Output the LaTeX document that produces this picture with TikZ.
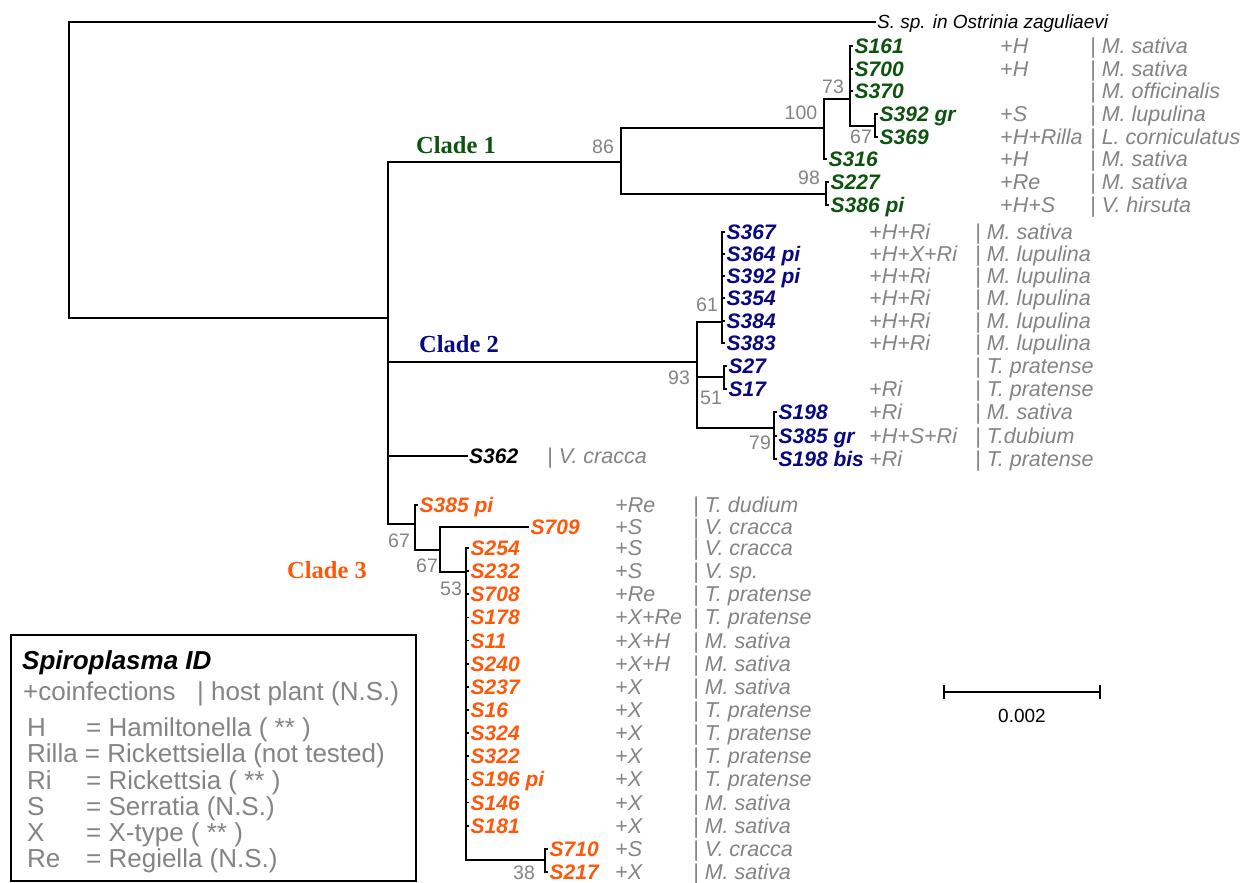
\documentclass[tikz,border=0pt]{standalone}
\usepackage{fontspec}
\setmainfont{Liberation Sans}
\newfontfamily\cladefont{Liberation Serif}
\definecolor{cgreen}{RGB}{12,84,14}
\definecolor{cnavy}{RGB}{8,8,128}
\definecolor{corange}{RGB}{255,88,10}
\definecolor{tgrey}{RGB}{132,132,132}

\tikzset{
  branch/.style={line width=1.7pt, line cap=rect, line join=miter},
  taxon/.style={anchor=base west, inner sep=0pt, font=\fontsize{21}{21}\selectfont\bfseries\itshape},
  note/.style={anchor=base west, inner sep=0pt, text=tgrey, font=\fontsize{21.5}{22}\selectfont\itshape},
  boot/.style={inner sep=0pt, text=tgrey, font=\fontsize{19.5}{20}\selectfont},
  cladelabel/.style={anchor=west, inner sep=0pt, font=\fontsize{24.5}{25}\selectfont\cladefont\bfseries},
  legendtext/.style={anchor=base west, inner sep=0pt, text=tgrey, font=\fontsize{26}{26}\selectfont},
}

% one terminal taxon: id, parent node, tip x, row y, strain, coinfections, host plant
\newcommand\leafrow[7]{%
  \coordinate (t#1) at (#3,#4);
  \draw[branch] (#2) |- (t#1);
  \node[taxon, text=\cladecol] (s#1) at (#3+2.5,#4+7.5) {#5};
  \node[note] (c#1) at (\coinfx,#4+7.5) {#6};
  \node[note] (h#1) at (\hostx,#4+7.5) {#7};
}

\begin{document}
\begin{tikzpicture}[x=1pt, y=-1pt]
\useasboundingbox (0,0) rectangle (1245,883);
\fill[white] (0,0) rectangle (1245,883);

% ---------- backbone ----------
\coordinate (root) at (69,170);
\coordinate (tog) at (875,22);
\coordinate (A) at (388,318);
\draw[branch] (root) |- (tog);
\draw[branch] (root) |- (A);
\node[anchor=base west, inner sep=0pt, font=\fontsize{19}{20}\selectfont\itshape] (og) at (877,29) {S. sp. in Ostrinia zaguliaevi};

\coordinate (c1) at (621,162);
\coordinate (c2) at (697,362);
\coordinate (c3) at (415,524);
\coordinate (t362) at (467,456);
\draw[branch] (A) |- (c1);
\draw[branch] (A) |- (c2);
\draw[branch] (A) |- (c3);
\draw[branch] (A) |- (t362);
\node[taxon] (s362) at (469,463.5) {S362};
\node[note] (h362) at (547,463.5) {| V. cracca};

% ---------- clade 1 ----------
\node[cladelabel, text=cgreen] (clade1) at (416,145) {Clade 1};
\coordinate (n100) at (824,128);
\coordinate (n73) at (850,99);
\coordinate (n67a) at (875,126);
\coordinate (n98) at (826,194);
\draw[branch] (c1) |- (n100);
\draw[branch] (c1) |- (n98);
\draw[branch] (n100) |- (n73);
\draw[branch] (n73) |- (n67a);
\def\cladecol{cgreen}\def\coinfx{1000}\def\hostx{1090}
\leafrow{161}{n73}{852}{46}{S161}{+H}{| M. sativa}
\leafrow{700}{n73}{852}{69}{S700}{+H}{| M. sativa}
\leafrow{370}{n73}{852}{91}{S370}{}{| M. officinalis}
\leafrow{392g}{n67a}{877}{114}{S392 gr}{+S}{| M. lupulina}
\leafrow{369}{n67a}{877}{137}{S369}{+H+Rilla}{| L. corniculatus}
\leafrow{316}{n100}{826}{159}{S316}{+H}{| M. sativa}
\leafrow{227}{n98}{828}{182}{S227}{+Re}{| M. sativa}
\leafrow{386p}{n98}{828}{205}{S386 pi}{+H+S}{| V. hirsuta}
\node[boot] (b86) at (603,147) {86};
\node[boot] (b100) at (801,113) {100};
\node[boot] (b73) at (833,87) {73};
\node[boot] (b67a) at (861,137) {67};
\node[boot] (b98) at (809,178) {98};

% ---------- clade 2 ----------
\node[cladelabel, text=cnavy] (clade2) at (419,344) {Clade 2};
\coordinate (n61) at (722,322);
\coordinate (n51) at (724,377);
\coordinate (n79) at (774,428);
\draw[branch] (c2) |- (n61);
\draw[branch] (c2) |- (n51);
\draw[branch] (c2) |- (n79);
\def\cladecol{cnavy}\def\coinfx{869}\def\hostx{975}
\leafrow{367}{n61}{724}{232}{S367}{+H+Ri}{| M. sativa}
\leafrow{364p}{n61}{724}{254}{S364 pi}{+H+X+Ri}{| M. lupulina}
\leafrow{392p}{n61}{724}{276}{S392 pi}{+H+Ri}{| M. lupulina}
\leafrow{354}{n61}{724}{298}{S354}{+H+Ri}{| M. lupulina}
\leafrow{384}{n61}{724}{321}{S384}{+H+Ri}{| M. lupulina}
\leafrow{383}{n61}{724}{343}{S383}{+H+Ri}{| M. lupulina}
\leafrow{27}{n51}{726}{366}{S27}{}{| T. pratense}
\leafrow{17}{n51}{726}{389}{S17}{+Ri}{| T. pratense}
\leafrow{198}{n79}{776}{412}{S198}{+Ri}{| M. sativa}
\leafrow{385g}{n79}{776}{436}{S385 gr}{+H+S+Ri}{| T.dubium}
\leafrow{198b}{n79}{776}{459}{S198 bis}{+Ri}{| T. pratense}
\node[boot] (b93) at (679,378) {93};
\node[boot] (b61) at (707,305) {61};
\node[boot] (b51) at (711,398) {51};
\node[boot] (b79) at (760,443) {79};

% ---------- clade 3 ----------
\node[cladelabel, text=corange] (clade3) at (287,570) {Clade 3};
\coordinate (n67b) at (440,550);
\coordinate (n53) at (466,572);
\coordinate (n38) at (545,860);
\draw[branch] (c3) |- (n67b);
\draw[branch] (n67b) |- (n53);
\draw[branch] (n53) |- (n38);
\def\cladecol{corange}\def\coinfx{615}\def\hostx{693}
\leafrow{385p}{c3}{417}{505}{S385 pi}{+Re}{| T. dudium}
\leafrow{709}{n67b}{528}{527}{S709}{+S}{| V. cracca}
\leafrow{254}{n53}{468}{548}{S254}{+S}{| V. cracca}
\leafrow{232}{n53}{468}{571.1}{S232}{+S}{| V. sp.}
\leafrow{708}{n53}{468}{594.3}{S708}{+Re}{| T. pratense}
\leafrow{178}{n53}{468}{617.4}{S178}{+X+Re}{| T. pratense}
\leafrow{11}{n53}{468}{640.6}{S11}{+X+H}{| M. sativa}
\leafrow{240}{n53}{468}{663.7}{S240}{+X+H}{| M. sativa}
\leafrow{237}{n53}{468}{686.9}{S237}{+X}{| M. sativa}
\leafrow{16}{n53}{468}{710}{S16}{+X}{| T. pratense}
\leafrow{324}{n53}{468}{733.1}{S324}{+X}{| T. pratense}
\leafrow{322}{n53}{468}{756.3}{S322}{+X}{| T. pratense}
\leafrow{196p}{n53}{468}{779.4}{S196 pi}{+X}{| T. pratense}
\leafrow{146}{n53}{468}{802.6}{S146}{+X}{| M. sativa}
\leafrow{181}{n53}{468}{825.7}{S181}{+X}{| M. sativa}
\leafrow{710}{n38}{547}{848.9}{S710}{+S}{| V. cracca}
\leafrow{217}{n38}{547}{872}{S217}{+X}{| M. sativa}
\node[boot] (b67b) at (399,541) {67};
\node[boot] (b67c) at (427,566) {67};
\node[boot] (b53) at (451,589) {53};
\node[boot] (b38) at (524,873) {38};

% ---------- scale bar ----------
\coordinate (sbl) at (944,692);
\coordinate (sbr) at (1100,692);
\draw[line width=1.5pt] (sbl) -- (sbr);
\draw[line width=1.5pt] ([yshift=7pt]sbl) -- ([yshift=-7pt]sbl);
\draw[line width=1.5pt] ([yshift=7pt]sbr) -- ([yshift=-7pt]sbr);
\node[inner sep=0pt, font=\fontsize{19}{19}\selectfont] (sblabel) at (1022,716) {0.002};

% ---------- legend ----------
\node[draw, line width=1.6pt, minimum width=405pt, minimum height=246pt, anchor=north west, inner sep=0pt] (legend) at (10,634) {};
\node[anchor=base west, inner sep=0pt, font=\fontsize{26}{26}\selectfont\bfseries\itshape] (legtitle) at (22,669) {Spiroplasma ID};
\node[legendtext] (legco) at (23,700) {+coinfections};
\node[legendtext] (leghost) at (197,700) {| host plant (N.S.)};
\node[legendtext] (kH) at (27,736) {H};
\node[legendtext] (vH) at (86,736) {= Hamiltonella ( ** )};
\node[legendtext] (kRilla) at (27,762) {Rilla = Rickettsiella (not tested)};
\node[legendtext] (kRi) at (27,789) {Ri};
\node[legendtext] (vRi) at (86,789) {= Rickettsia ( ** )};
\node[legendtext] (kS) at (27,815) {S};
\node[legendtext] (vS) at (86,815) {= Serratia (N.S.)};
\node[legendtext] (kX) at (27,841) {X};
\node[legendtext] (vX) at (86,841) {= X-type ( ** )};
\node[legendtext] (kRe) at (27,867) {Re};
\node[legendtext] (vRe) at (86,867) {= Regiella (N.S.)};
\end{tikzpicture}
\end{document}
